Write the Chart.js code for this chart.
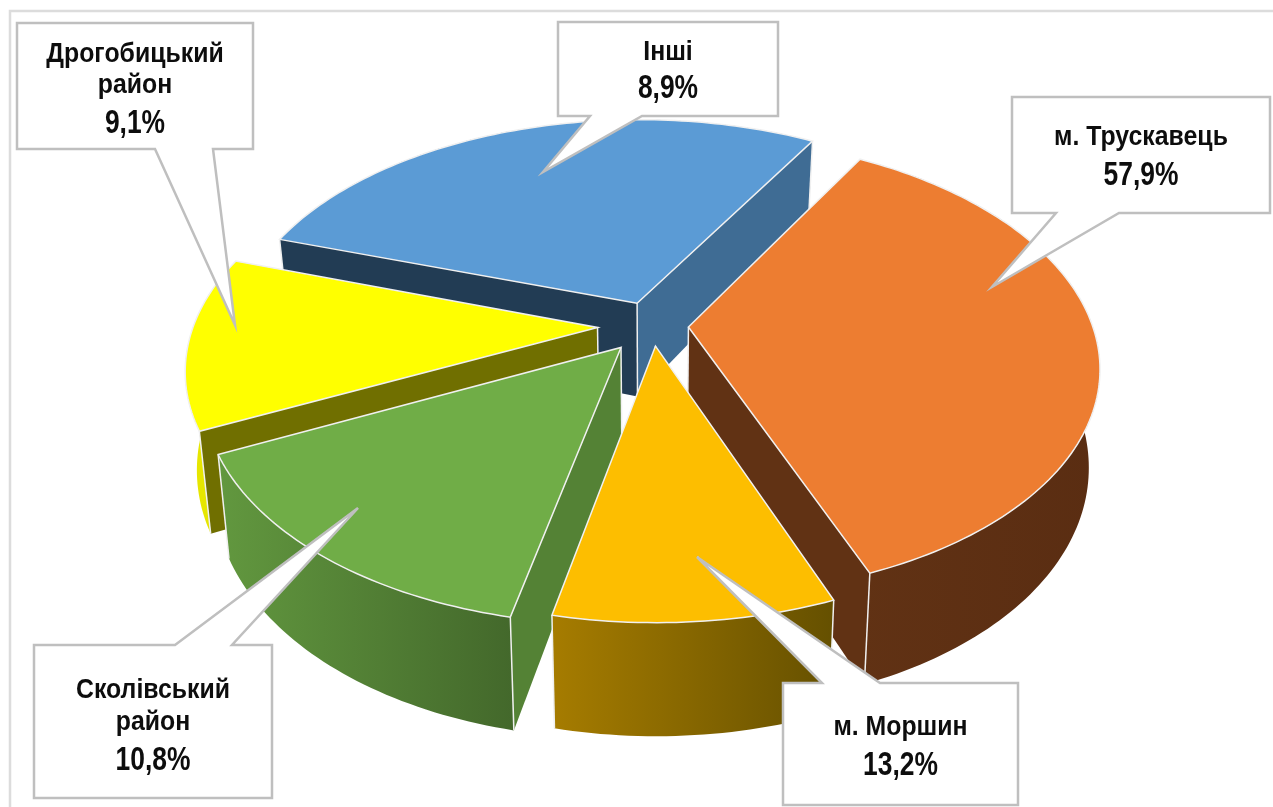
<!DOCTYPE html>
<html>
<head>
<meta charset="utf-8">
<title>Pie</title>
<style>
  html, body { margin: 0; padding: 0; background: #fff; overflow: hidden; }
  canvas { display: block; }
</style>
</head>
<body>
<canvas id="chart" width="1273" height="807"></canvas>
<script src="https://cdn.jsdelivr.net/npm/chart.js@4/dist/chart.umd.min.js"></script>
<script>
const categories = ['м. Трускавець', 'м. Моршин', 'Сколівський район', 'Дрогобицький район', 'Інші'];
// printed percentages on the callouts
const printedShares = [57.9, 13.2, 10.8, 9.1, 8.9];
// slice sizes as measured in the picture (they don't follow the printed numbers)
const sliceShares = [35.75, 9.3, 14.5, 12.2, 28.25];
const explode = [36, 37, 50, 55, 44];

const topColors = ['#ed7d31', '#fdbe00', '#70ad47', '#ffff00', '#5b9bd5'];
const startWallColors = ['#613214', '#7f6000', '#548235', '#706f00', '#223c54'];
const endWallColors = ['#613214', '#7f6000', '#548235', '#706f00', '#3f6c94'];
const rimLeftColors = ['#613214', '#a67c00', '#62983f', '#e6e600', '#3f6c94'];
const rimRightColors = ['#5a2d12', '#655000', '#43682b', '#e6e600', '#3f6c94'];

const PIE_RX = 404;      // horizontal radius on screen
const TILT = 0.549;      // vertical squash of the disc
const PERSPECTIVE = 0.17;
const DEPTH = 95;        // wall height in the middle of the disc
const DEPTH_SLOPE = 17;  // how much it grows towards the viewer
const BOTTOM_SHRINK = 0.025;

const callouts = [
    { slice: 0, box: [1012, 97, 1270, 213], base: [1056, 1119], tip: [992, 287], lines: [[0, 145], [1, 185]] },
    { slice: 1, box: [783, 683, 1018, 805], base: [822, 880], tip: [697, 557], lines: [[0, 735], [1, 775]] },
    { slice: 2, box: [34, 645, 272, 798], base: [175, 232], tip: [358, 508], lines: [[0, 698], [2, 730], [1, 770]] },
    { slice: 3, box: [17, 23, 253, 149], base: [155, 213], tip: [235, 325], lines: [[0, 62], [2, 93], [1, 133]] },
    { slice: 4, box: [558, 22, 778, 116], base: [590, 642], tip: [543, 172], lines: [[0, 60], [1, 98]] }
];

function project(arc, r, theta, lowered) {
    const mid = (arc.startAngle + arc.endAngle) / 2;
    const off = arc.options.offset / PIE_RX;
    const u = r * Math.cos(theta) + off * Math.cos(mid);
    const v = r * Math.sin(theta) + off * Math.sin(mid);
    const w = 1 / (1 - PERSPECTIVE * v);
    let x = u * w * PIE_RX;
    let y = v * w * TILT * PIE_RX;
    if (lowered) {
        x *= 1 - BOTTOM_SHRINK;
        y += DEPTH + DEPTH_SLOPE * v;
    }
    return { x: arc.x + x, y: arc.y + y };
}

function arcPoints(arc, lowered) {
    const pts = [];
    const steps = Math.ceil((arc.endAngle - arc.startAngle) / 0.02);
    for (let i = 0; i <= steps; i++) {
        pts.push(project(arc, 1, arc.startAngle + (arc.endAngle - arc.startAngle) * i / steps, lowered));
    }
    return pts;
}

function fillPoly(ctx, pts, fill) {
    ctx.beginPath();
    pts.forEach((p, i) => i ? ctx.lineTo(p.x, p.y) : ctx.moveTo(p.x, p.y));
    ctx.closePath();
    ctx.fillStyle = fill;
    ctx.fill();
}

function edge(ctx, a, b) {
    ctx.beginPath();
    ctx.moveTo(a.x, a.y);
    ctx.lineTo(b.x, b.y);
    ctx.stroke();
}

// a cut wall shows only if its lower edge falls outside the top face
function wallFacesViewer(apex, apexLow, corner, inside) {
    const ex = corner.x - apex.x, ey = corner.y - apex.y;
    const down = ex * (apexLow.y - apex.y) - ey * (apexLow.x - apex.x);
    const inner = ex * (inside.y - apex.y) - ey * (inside.x - apex.x);
    return down * inner < 0;
}

function drawSlice(ctx, arc, i) {
    const top = arcPoints(arc, false);
    const low = arcPoints(arc, true);
    const apex = project(arc, 0, 0, false);
    const apexLow = project(arc, 0, 0, true);
    const last = top.length - 1;
    const middle = top[Math.round(last / 2)];

    const xs = top.concat(low).map(p => p.x);
    const grad = ctx.createLinearGradient(Math.min(...xs), 0, Math.max(...xs), 0);
    grad.addColorStop(0, rimLeftColors[i]);
    grad.addColorStop(1, rimRightColors[i]);
    fillPoly(ctx, top.concat(low.slice().reverse()), grad);

    if (wallFacesViewer(apex, apexLow, top[0], middle)) {
        fillPoly(ctx, [apex, top[0], low[0], apexLow], startWallColors[i]);
    }
    if (wallFacesViewer(apex, apexLow, top[last], middle)) {
        fillPoly(ctx, [apex, top[last], low[last], apexLow], endWallColors[i]);
    }

    ctx.strokeStyle = '#f0f0f0';
    ctx.lineWidth = 1.5;
    edge(ctx, apex, apexLow);
    edge(ctx, top[0], low[0]);
    edge(ctx, top[last], low[last]);

    fillPoly(ctx, [apex].concat(top), topColors[i]);
    ctx.stroke();
}

function drawCallout(ctx, c) {
    const [x1, y1, x2, y2] = c.box;
    const below = c.tip[1] > y2;
    ctx.beginPath();
    ctx.moveTo(x1, y1);
    if (!below) {
        ctx.lineTo(c.base[0], y1);
        ctx.lineTo(c.tip[0], c.tip[1]);
        ctx.lineTo(c.base[1], y1);
    }
    ctx.lineTo(x2, y1);
    ctx.lineTo(x2, y2);
    if (below) {
        ctx.lineTo(c.base[1], y2);
        ctx.lineTo(c.tip[0], c.tip[1]);
        ctx.lineTo(c.base[0], y2);
    }
    ctx.lineTo(x1, y2);
    ctx.closePath();
    ctx.fillStyle = '#fff';
    ctx.fill();
    ctx.strokeStyle = '#bfbfbf';
    ctx.lineWidth = 2.5;
    ctx.lineJoin = 'miter';
    ctx.stroke();

    const words = categories[c.slice].split(' ');
    const cx = (x1 + x2) / 2;
    ctx.fillStyle = '#0d0d0d';
    ctx.textAlign = 'center';
    ctx.textBaseline = 'alphabetic';
    c.lines.forEach(([kind, y]) => {
        let text = categories[c.slice];
        if (kind === 1) text = printedShares[c.slice].toFixed(1).replace('.', ',') + '%';
        if (words[0] !== 'м.' && words.length > 1) {
            if (kind === 0) text = words[0];
            if (kind === 2) text = words[1];
        }
        ctx.save();
        ctx.translate(cx, y);
        ctx.scale(kind === 1 ? 0.8 : 0.92, 1);
        ctx.font = 'bold ' + (kind === 1 ? 33 : 27) + 'px "Liberation Sans", Arial, sans-serif';
        ctx.fillText(text, 0, 0);
        ctx.restore();
    });
}

const pie3d = {
    id: 'pie3d',
    beforeDraw(chart) {
        const ctx = chart.ctx;
        ctx.save();
        ctx.strokeStyle = '#dcdcdc';
        ctx.lineWidth = 2.5;
        ctx.beginPath();
        ctx.moveTo(10, 807);
        ctx.lineTo(10, 11);
        ctx.lineTo(1273, 11);
        ctx.stroke();
        ctx.restore();
    },
    // arcs are laid out by Chart.js, here they only get projected and extruded
    beforeDatasetsDraw(chart) {
        const ctx = chart.ctx;
        const arcs = chart.getDatasetMeta(0).data;
        const order = arcs.map((a, i) => i).sort((a, b) =>
            Math.sin((arcs[a].startAngle + arcs[a].endAngle) / 2) - Math.sin((arcs[b].startAngle + arcs[b].endAngle) / 2));
        ctx.save();
        order.forEach(i => drawSlice(ctx, arcs[i], i));
        callouts.forEach(c => drawCallout(ctx, c));
        ctx.restore();
        return false;
    }
};

new Chart(document.getElementById('chart'), {
    type: 'pie',
    data: {
        labels: categories,
        datasets: [{
            data: sliceShares,
            backgroundColor: topColors,
            offset: explode
        }]
    },
    options: {
        responsive: false,
        animation: false,
        rotation: 30,
        layout: { padding: { left: 32, bottom: 156 } },
        plugins: { legend: { display: false }, tooltip: { enabled: false } }
    },
    plugins: [pie3d]
});
</script>
</body>
</html>
